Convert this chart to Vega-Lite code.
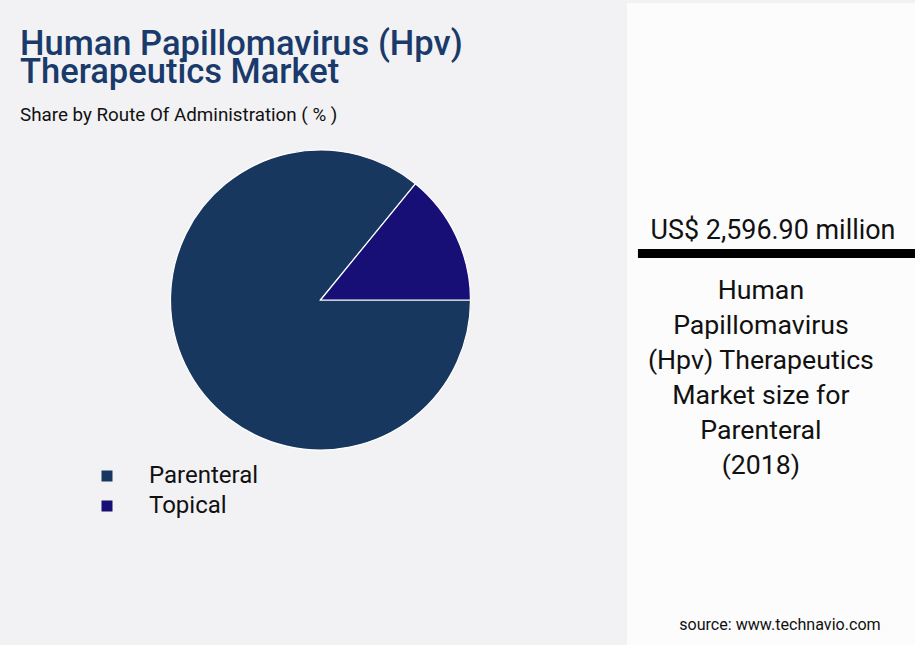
{
  "$schema": "https://vega.github.io/schema/vega-lite/v6.json",
  "background": "#f2f2f4",
  "padding": {"top": 3, "left": 0, "right": 0, "bottom": 0},
  "config": {
    "view": {"stroke": null},
    "font": "Roboto"
  },
  "spacing": 0,
  "hconcat": [
    {
      "spacing": 0,
      "vconcat": [
        {
          "width": 627,
          "height": 125,
          "layer": [
            {
              "data": {"values": [{"text": "Human Papillomavirus (Hpv)\nTherapeutics Market"}]},
              "mark": {"type": "text", "fontSize": 34.5, "fontWeight": 500, "color": "#193a6a", "align": "left", "baseline": "alphabetic", "lineBreak": "\n", "lineHeight": 28},
              "encoding": {
                "x": {"datum": 3.19, "type": "quantitative", "scale": {"domain": [0, 100]}, "axis": null},
                "y": {"datum": 41.84, "type": "quantitative", "scale": {"domain": [0, 100], "reverse": true}, "axis": null},
                "text": {"field": "text"}
              }
            },
            {
              "data": {"values": [{"text": "Share by Route Of Administration ( % )"}]},
              "mark": {"type": "text", "fontSize": 18.8, "fontWeight": 400, "color": "#111111", "align": "left", "baseline": "alphabetic"},
              "encoding": {
                "x": {"datum": 3.19, "type": "quantitative"},
                "y": {"datum": 94.16, "type": "quantitative"},
                "text": {"field": "text"}
              }
            }
          ]
        },
        {
          "width": 627,
          "height": 344,
          "data": {
            "values": [
              {"route": "Parenteral", "share": 85.9},
              {"route": "Topical", "share": 14.1}
            ]
          },
          "mark": {"type": "arc", "radius": 150, "stroke": "#ffffff", "strokeWidth": 1.2, "xOffset": 7},
          "encoding": {
            "theta": {
              "field": "share",
              "type": "quantitative",
              "stack": true,
              "scale": {"range": [1.5708, 7.8540]}
            },
            "order": {"field": "route", "sort": "ascending"},
            "color": {
              "field": "route",
              "type": "nominal",
              "scale": {"domain": ["Parenteral", "Topical"], "range": ["#17375f", "#170f75"]},
              "legend": {
                "title": null,
                "orient": "none",
                "legendX": 95,
                "legendY": 461,
                "padding": 0,
                "symbolType": "square",
                "symbolSize": 121,
                "symbolStrokeWidth": 0,
                "labelFont": "Roboto",
                "labelFontSize": 24,
                "labelFontWeight": 400,
                "labelColor": "#111111",
                "labelOffset": 30,
                "rowPadding": 6
              }
            }
          }
        }
      ]
    },
    {
      "width": 288,
      "height": 642,
      "view": {"fill": "#fcfcfc", "stroke": null},
      "data": {
        "values": [
          {"part": "headline", "text": "US$ 2,596.90 million"},
          {"part": "caption", "text": "Human\nPapillomavirus\n(Hpv) Therapeutics\nMarket size for\nParenteral\n(2018)"},
          {"part": "source", "text": "source: www.technavio.com"}
        ]
      },
      "layer": [
        {
          "transform": [{"filter": "datum.part === 'headline'"}],
          "mark": {"type": "text", "fontSize": 26.9, "fontWeight": 400, "color": "#111111", "align": "center", "baseline": "alphabetic"},
          "encoding": {
            "x": {"datum": 50.7, "type": "quantitative", "scale": {"domain": [0, 100]}, "axis": null},
            "y": {"datum": 36.76, "type": "quantitative", "scale": {"domain": [0, 100], "reverse": true}, "axis": null},
            "text": {"field": "text"}
          }
        },
        {
          "data": {"values": [{"from": 3.8, "to": 100, "level": 39.02}]},
          "mark": {"type": "rule", "strokeWidth": 9, "color": "#000000"},
          "encoding": {
            "x": {"field": "from", "type": "quantitative"},
            "x2": {"field": "to"},
            "y": {"field": "level", "type": "quantitative"}
          }
        },
        {
          "transform": [{"filter": "datum.part === 'caption'"}],
          "mark": {"type": "text", "fontSize": 26.7, "fontWeight": 400, "color": "#111111", "align": "center", "baseline": "alphabetic", "lineBreak": "\n", "lineHeight": 35},
          "encoding": {
            "x": {"datum": 46.5, "type": "quantitative"},
            "y": {"datum": 46.11, "type": "quantitative"},
            "text": {"field": "text"}
          }
        },
        {
          "transform": [{"filter": "datum.part === 'source'"}],
          "mark": {"type": "text", "fontSize": 16.1, "fontWeight": 400, "color": "#111111", "align": "center", "baseline": "alphabetic"},
          "encoding": {
            "x": {"datum": 53.1, "type": "quantitative"},
            "y": {"datum": 97.66, "type": "quantitative"},
            "text": {"field": "text"}
          }
        }
      ]
    }
  ]
}
